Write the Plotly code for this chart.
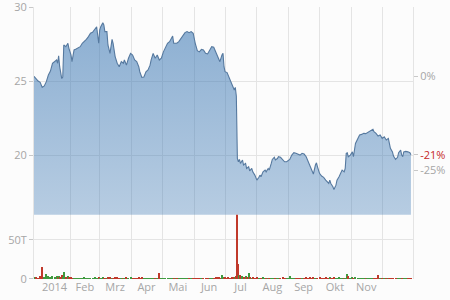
import pandas as pd
import plotly.graph_objects as go

# ---- data ----
# trading dates, given as days since 2014-01-01
day = [-5, -3, -1, 1, 3, 5, 7, 9, 11, 13,
       15, 17, 18, 19, 20, 22, 23, 24, 26, 28,
       29, 31, 32, 34, 36, 38, 40, 42, 44, 46,
       48, 50, 52, 54, 56, 58, 59, 60, 62, 63,
       64, 66, 67, 69, 71, 72, 74, 76, 78, 80,
       82, 83, 85, 87, 89, 91, 93, 95, 97, 98,
       100, 102, 104, 106, 108, 109, 111, 113, 115, 117,
       119, 121, 123, 125, 127, 129, 130, 131, 133, 134,
       136, 138, 140, 142, 144, 146, 148, 150, 152, 154,
       156, 158, 160, 162, 164, 166, 168, 170, 172, 173,
       175, 176, 178, 179, 180, 181, 183, 184, 186, 188,
       190, 191, 192, 193, 194, 195, 196, 198, 199, 201,
       202, 204, 205, 207, 208, 210, 211, 212, 214, 215,
       216, 218, 220, 221, 223, 224, 226, 227, 229, 230,
       232, 233, 235, 237, 239, 241, 243, 244, 246, 248,
       250, 252, 254, 256, 258, 260, 262, 264, 266, 267,
       269, 270, 271, 273, 275, 277, 279, 281, 282, 283,
       284, 286, 287, 289, 290, 292, 294, 295, 297, 298,
       299, 300, 301, 303, 305, 306, 308, 310, 312, 314,
       316, 318, 319, 321, 323, 325, 326, 328, 330, 332,
       334, 336, 338, 340, 341, 342, 344, 345, 347, 349,
       350, 352, 353, 354, 355, 357, 359, 361, 362]

price = [25.35, 25.17, 25.03, 24.94, 24.6, 24.7, 24.99, 25.44, 25.7, 26.23,
         26.34, 26.45, 26.23, 26.74, 26.0, 25.2, 25.3, 27.47, 27.35, 27.58,
         27.24, 26.79, 26.34, 27.13, 27.2, 27.28, 27.35, 27.58, 27.69, 27.85,
         28.03, 28.26, 28.32, 28.48, 28.7, 27.58, 28.48, 28.7, 28.97, 28.82,
         28.37, 28.37, 27.47, 26.9, 27.85, 27.58, 26.68, 26.23, 26.0, 26.34,
         26.23, 26.45, 26.11, 26.57, 26.9, 26.79, 26.45, 26.34, 26.0, 25.66,
         25.28, 25.3, 25.66, 25.78, 26.1, 26.45, 26.9, 26.57, 26.79, 26.45,
         26.57, 27.0, 27.35, 27.58, 27.69, 28.03, 28.07, 27.58, 27.6, 27.58,
         27.69, 27.92, 28.14, 28.3, 28.37, 28.3, 28.37, 28.26, 27.58, 27.08,
         27.0, 27.17, 27.13, 26.9, 26.86, 27.13, 27.35, 27.31, 27.0, 26.86,
         26.45, 26.34, 26.79, 26.9, 26.0, 25.66, 25.6, 25.44, 25.1, 24.76,
         24.43, 24.6, 24.0, 19.8, 19.58, 19.74, 19.47, 19.7, 19.36, 19.47,
         19.13, 19.24, 18.97, 19.13, 18.9, 18.68, 18.46, 18.34, 18.53, 18.68,
         18.57, 18.9, 19.02, 18.9, 19.13, 19.02, 19.47, 19.74, 19.88, 19.7,
         19.8, 19.92, 19.88, 19.74, 19.58, 19.58, 19.65, 19.74, 20.03, 20.19,
         20.15, 20.1, 20.03, 20.15, 20.1, 19.92, 19.58, 19.24, 19.02, 18.75,
         19.36, 19.51, 19.24, 18.8, 18.62, 18.53, 18.34, 18.23, 18.12, 18.34,
         18.12, 17.89, 17.71, 18.0, 18.34, 18.57, 18.84, 19.02, 18.9, 19.13,
         20.15, 20.19, 19.92, 20.03, 20.25, 19.92, 20.82, 21.16, 21.39, 21.43,
         21.5, 21.48, 21.52, 21.61, 21.72, 21.77, 21.61, 21.5, 21.32, 21.39,
         21.16, 21.27, 21.05, 21.16, 20.82, 20.49, 20.25, 19.97, 19.74, 19.88,
         20.19, 20.37, 20.03, 19.92, 20.25, 20.28, 20.25, 20.19, 20.05]

# volume in thousands of shares
volume_k = [2.5, 3, 2, 3.5, 15, 3, 7, 4, 3, 4,
            3, 3.5, 2.5, 4, 3, 5, 2.5, 9, 3, 4,
            3, 2.5, 2, 2, 1.5, 2, 1.5, 2, 2.5, 1.5,
            2, 1.5, 2, 2.5, 2, 3, 2, 1.5, 2.5, 2,
            2, 1.5, 3, 2.5, 2, 1.5, 2.5, 3, 2, 2,
            1.5, 2, 2.5, 2, 3, 1.5, 2, 1.5, 2.5, 2,
            3, 2, 1.5, 2, 1.5, 2, 1.5, 2, 1.5, 8,
            1.5, 1, 1.5, 1, 1.5, 1, 1.5, 1, 1, 1.5,
            1, 1.5, 1, 1, 1.5, 1, 1, 1.5, 1, 1.5,
            1, 1, 1.5, 1, 1.5, 2, 1.5, 2, 2.5, 3,
            2.5, 2, 5, 2.5, 2, 3, 2, 2.5, 2, 3,
            2.5, 3, 3.5, 120, 20, 5, 6, 4, 3, 4,
            3, 7.5, 3, 2, 2.5, 2, 2, 2.5, 2, 1.5,
            2, 2.5, 2, 1.5, 2, 1.5, 2, 1.5, 2, 1.5,
            2, 1.5, 2, 3, 2, 1.5, 2, 4, 2, 1.5,
            2, 1.5, 2, 2, 1.5, 3, 2, 2.5, 2, 2.5,
            2, 2, 2, 2.5, 2, 2, 2.5, 2, 2, 2.5,
            2, 2, 2.5, 2, 2, 2.5, 2, 2, 1.5, 2,
            2, 7, 3.5, 2, 2.5, 2, 2.5, 2, 2, 1.5,
            2, 1.5, 2, 1.5, 2, 2, 1.5, 2, 5.5, 2,
            1.5, 2, 1.5, 2, 1.5, 2, 1.5, 1, 1.5, 1,
            1.5, 1, 1.5, 1, 1.5, 1, 1, 1, 1.5]

month_labels = ["2014", "Feb", "Mrz", "Apr", "Mai", "Jun", "Jul", "Aug", "Sep", "Okt", "Nov"]
price_ticks = [20, 25, 30]
pct_ticks = [0, -25]
vol_ticks = [0, 50]
vol_tick_text = ["0", "50T"]

# ---- styling ----
FONT = "Open Sans"
TXT = "#a6a6a6"
GRID = "#e4e4e4"
LINE = "#56799f"
UP = "#3f9a3f"
DOWN = "#c0392b"
RED_LABEL = "#c62828"
PRICE_RANGE = [16, 30.03]
VOL_RANGE = [0, 82]
SPLIT = 0.236

dates = pd.Timestamp("2014-01-01") + pd.to_timedelta(day, unit="D")
month_starts = pd.date_range("2014-01-01", "2014-12-01", freq="MS")
month_ends = pd.date_range("2014-01-31", "2014-12-31", freq="ME")
month_mid = [s + (e - s) / 2 for s, e in zip(month_starts[:11], month_ends[:11])]
grid_dates = list(month_starts[1:])

base = price[0]
pct_range = [(PRICE_RANGE[0] / base - 1) * 100, (PRICE_RANGE[1] / base - 1) * 100]
last_pct = (price[-1] / base - 1) * 100

vol_colors = [UP] + [UP if price[i] >= price[i - 1] else DOWN for i in range(1, len(price))]

fig = go.Figure()
fig.add_trace(go.Scatter(
    x=dates, y=price, mode="lines", xaxis="x", yaxis="y",
    line=dict(color=LINE, width=1.1), fill="tozeroy",
    fillgradient=dict(type="vertical", start=16, stop=30,
                      colorscale=[[0, "rgba(60,120,180,0.36)"], [1, "rgba(60,120,180,0.60)"]]),
    hoverinfo="skip", showlegend=False))
fig.add_trace(go.Scatter(
    x=[dates[0]], y=[0], mode="markers", xaxis="x", yaxis="y3",
    marker=dict(opacity=0), hoverinfo="skip", showlegend=False))
fig.add_trace(go.Bar(
    x=dates, y=volume_k, xaxis="x2", yaxis="y2", marker=dict(color=vol_colors, line=dict(width=0)),
    width=86400000 * 1.0, hoverinfo="skip", showlegend=False))

minor = dict(tickmode="array", tickvals=grid_dates, showgrid=True, gridcolor=GRID, gridwidth=1, ticks="")
xrange = ["2013-12-27", "2014-12-31"]

fig.update_layout(
    width=450, height=300,
    margin=dict(l=34, r=37, t=7, b=21, pad=0),
    paper_bgcolor="#fcfcfc", plot_bgcolor="#fcfcfc",
    font=dict(family=FONT, size=11, color=TXT),
    bargap=0,
    xaxis=dict(domain=[0, 1], anchor="y", range=xrange, type="date", automargin=False,
               showticklabels=False, showgrid=False, zeroline=False, ticks="", minor=minor),
    xaxis2=dict(domain=[0, 1], anchor="y2", matches="x", range=xrange, type="date",
                automargin=False,
                tickmode="array", tickvals=month_mid, ticktext=month_labels, ticks="",
                showgrid=False, zeroline=False, minor=minor,
                tickfont=dict(family=FONT, size=11, color=TXT)),
    yaxis=dict(domain=[SPLIT, 1], anchor="x", range=PRICE_RANGE, tickmode="array",
               automargin=False, ticklabeloverflow="allow",
               tickvals=price_ticks, ticks="outside", ticklen=4, tickcolor="#c8c8c8",
               gridcolor=GRID, zeroline=False, showline=True, linecolor=GRID, mirror=True,
               tickfont=dict(family=FONT, size=11, color=TXT)),
    yaxis2=dict(domain=[0, SPLIT], anchor="x2", range=VOL_RANGE, tickmode="array",
                automargin=False, ticklabeloverflow="allow",
                tickvals=vol_ticks, ticktext=vol_tick_text, ticks="outside", ticklen=4,
                tickcolor="#c8c8c8", gridcolor=GRID, zeroline=False, showline=True,
                linecolor=GRID, mirror=True,
                tickfont=dict(family=FONT, size=11, color=TXT)),
    yaxis3=dict(overlaying="y", side="right", anchor="x", range=pct_range, tickmode="array",
                automargin=False, ticklabeloverflow="allow",
                tickvals=pct_ticks + [last_pct],
                ticktext=[f"{v}%" for v in pct_ticks] +
                         [f"<span style='color:{RED_LABEL}'>{round(last_pct)}%</span>"],
                ticks="outside", ticklen=4, tickcolor="#c8c8c8", showgrid=False, zeroline=False,
                tickfont=dict(family=FONT, size=11, color=TXT)),
)

fig.write_html("out.html")
